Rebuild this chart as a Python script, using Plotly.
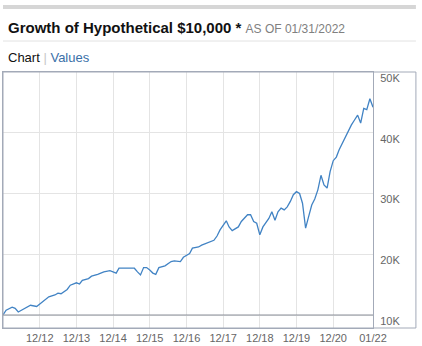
import pandas as pd
import plotly.graph_objects as go

months = ["2011-12","2012-01","2012-03","2012-04","2012-05","2012-06","2012-08","2012-09","2012-11","2012-12",
          "2013-02","2013-03","2013-05","2013-06","2013-07","2013-09","2013-10","2013-12",
          "2014-01","2014-02","2014-04","2014-05","2014-07","2014-09","2014-11",
          "2015-01","2015-02","2015-04","2015-06","2015-07","2015-08","2015-09","2015-10","2015-11","2015-12",
          "2016-01","2016-02","2016-03","2016-05","2016-07","2016-08","2016-10","2016-11",
          "2017-01","2017-02","2017-04","2017-05","2017-07","2017-09","2017-10","2017-11",
          "2018-01","2018-02","2018-03","2018-04","2018-05","2018-06","2018-07","2018-08","2018-09","2018-10","2018-11","2018-12",
          "2019-01","2019-03","2019-04","2019-05","2019-06","2019-07","2019-08","2019-09","2019-10","2019-11","2019-12",
          "2020-01","2020-02","2020-03","2020-04","2020-05","2020-06","2020-07","2020-08","2020-09","2020-10","2020-11","2020-12",
          "2021-01","2021-02","2021-04","2021-05","2021-06","2021-07","2021-08","2021-09","2021-10","2021-11","2021-12",
          "2022-01"]
values = [10000,10800,11300,11100,10500,10800,11300,11600,11400,11800,
          12500,13000,13300,13600,13500,14200,14900,15300,
          15100,15700,16000,16400,16700,17100,17300,
          16900,17700,17700,17800,17700,17100,16600,17800,17800,17400,
          16900,16700,17800,18100,18800,18900,18800,19500,
          20100,21000,21200,21500,21900,22300,23000,24000,
          25500,24500,23900,24200,24500,25400,25900,26500,26500,25400,25100,23200,
          24500,25900,27000,25600,27000,27600,27300,27800,28700,29800,30300,
          30000,28400,24300,26200,28100,29100,30600,33000,31400,30900,33600,35400,
          36000,37200,39300,40500,41300,42100,42900,41600,44000,43800,45600,
          44200]

tick_dates = ["2012-12-31","2013-12-31","2014-12-31","2015-12-31","2016-12-31",
              "2017-12-31","2018-12-31","2019-12-31","2020-12-31","2022-01-31"]
tick_text = ["12/12","12/13","12/14","12/15","12/16","12/17","12/18","12/19","12/20","01/22"]
y_ticks = [10000, 20000, 30000, 40000, 50000]
y_text = ["10K", "20K", "30K", "40K", "50K"]

dates = pd.to_datetime(months) + pd.offsets.MonthEnd(0)

FONT = "Arial, Liberation Sans, sans-serif"
BORDER = "#a3aab8"

fig = go.Figure()
fig.add_trace(go.Scatter(x=dates, y=values, mode="lines",
                         line=dict(color="#4183c4", width=1.3), hoverinfo="skip"))

fig.update_layout(
    width=422, height=346,
    margin=dict(l=3, r=49, t=72, b=18),
    paper_bgcolor="white", plot_bgcolor="white",
    showlegend=False,
    font=dict(family=FONT, color="#666", size=11),
    xaxis=dict(range=["2011-12-31", "2022-01-31"], tickmode="array",
               tickvals=tick_dates, ticktext=tick_text,
               showgrid=True, gridcolor="#e4e4e4", gridwidth=1,
               showline=True, linecolor=BORDER, linewidth=1, mirror=True,
               ticks="", ticklabelstandoff=0, tickfont=dict(size=11, color="#666", family=FONT),
               zeroline=False),
    yaxis=dict(range=[7860, 50000], side="right", tickmode="array",
               tickvals=y_ticks, ticktext=y_text,
               showgrid=True, gridcolor="#e4e4e4", gridwidth=1,
               showline=True, linecolor=BORDER, linewidth=1, mirror=True,
               ticks="", ticklabelstandoff=4, ticklabelshift=6,
               tickfont=dict(size=11, color="#666", family=FONT),
               zeroline=False),
)

# baseline at 10K
fig.add_shape(type="line", xref="paper", yref="y", x0=0, x1=1, y0=10000, y1=10000,
              line=dict(color="#8a8f99", width=1))
# outer box extending to the right of the plot
fig.add_shape(type="rect", xref="paper", yref="paper", x0=0, x1=1.116, y0=0, y1=1,
              line=dict(color=BORDER, width=1), layer="above")
# top gray bar
fig.add_shape(type="rect", xref="paper", yref="paper", x0=0, x1=1.116, y0=1.246, y1=1.262,
              line=dict(width=0), fillcolor="#d6d6d6")
# separator line
fig.add_shape(type="line", xref="paper", yref="paper", x0=0, x1=1.116, y0=1.121, y1=1.121,
              line=dict(color="#e2e2e2", width=1))

fig.add_annotation(xref="paper", yref="paper", x=0.008, y=1.172,
                   xanchor="left", yanchor="middle", showarrow=False,
                   text="<b>Growth of Hypothetical $10,000 *</b> <span style='color:#808080;font-size:12px'>AS OF 01/31/2022</span>",
                   font=dict(family=FONT, size=15, color="#111"))
fig.add_annotation(xref="paper", yref="paper", x=0.008, y=1.055,
                   xanchor="left", yanchor="middle", showarrow=False,
                   text="Chart <span style='color:#c8c8c8'>|</span> <span style='color:#3a70a8'>Values</span>",
                   font=dict(family=FONT, size=13, color="#111"))

fig.write_html("out.html")
